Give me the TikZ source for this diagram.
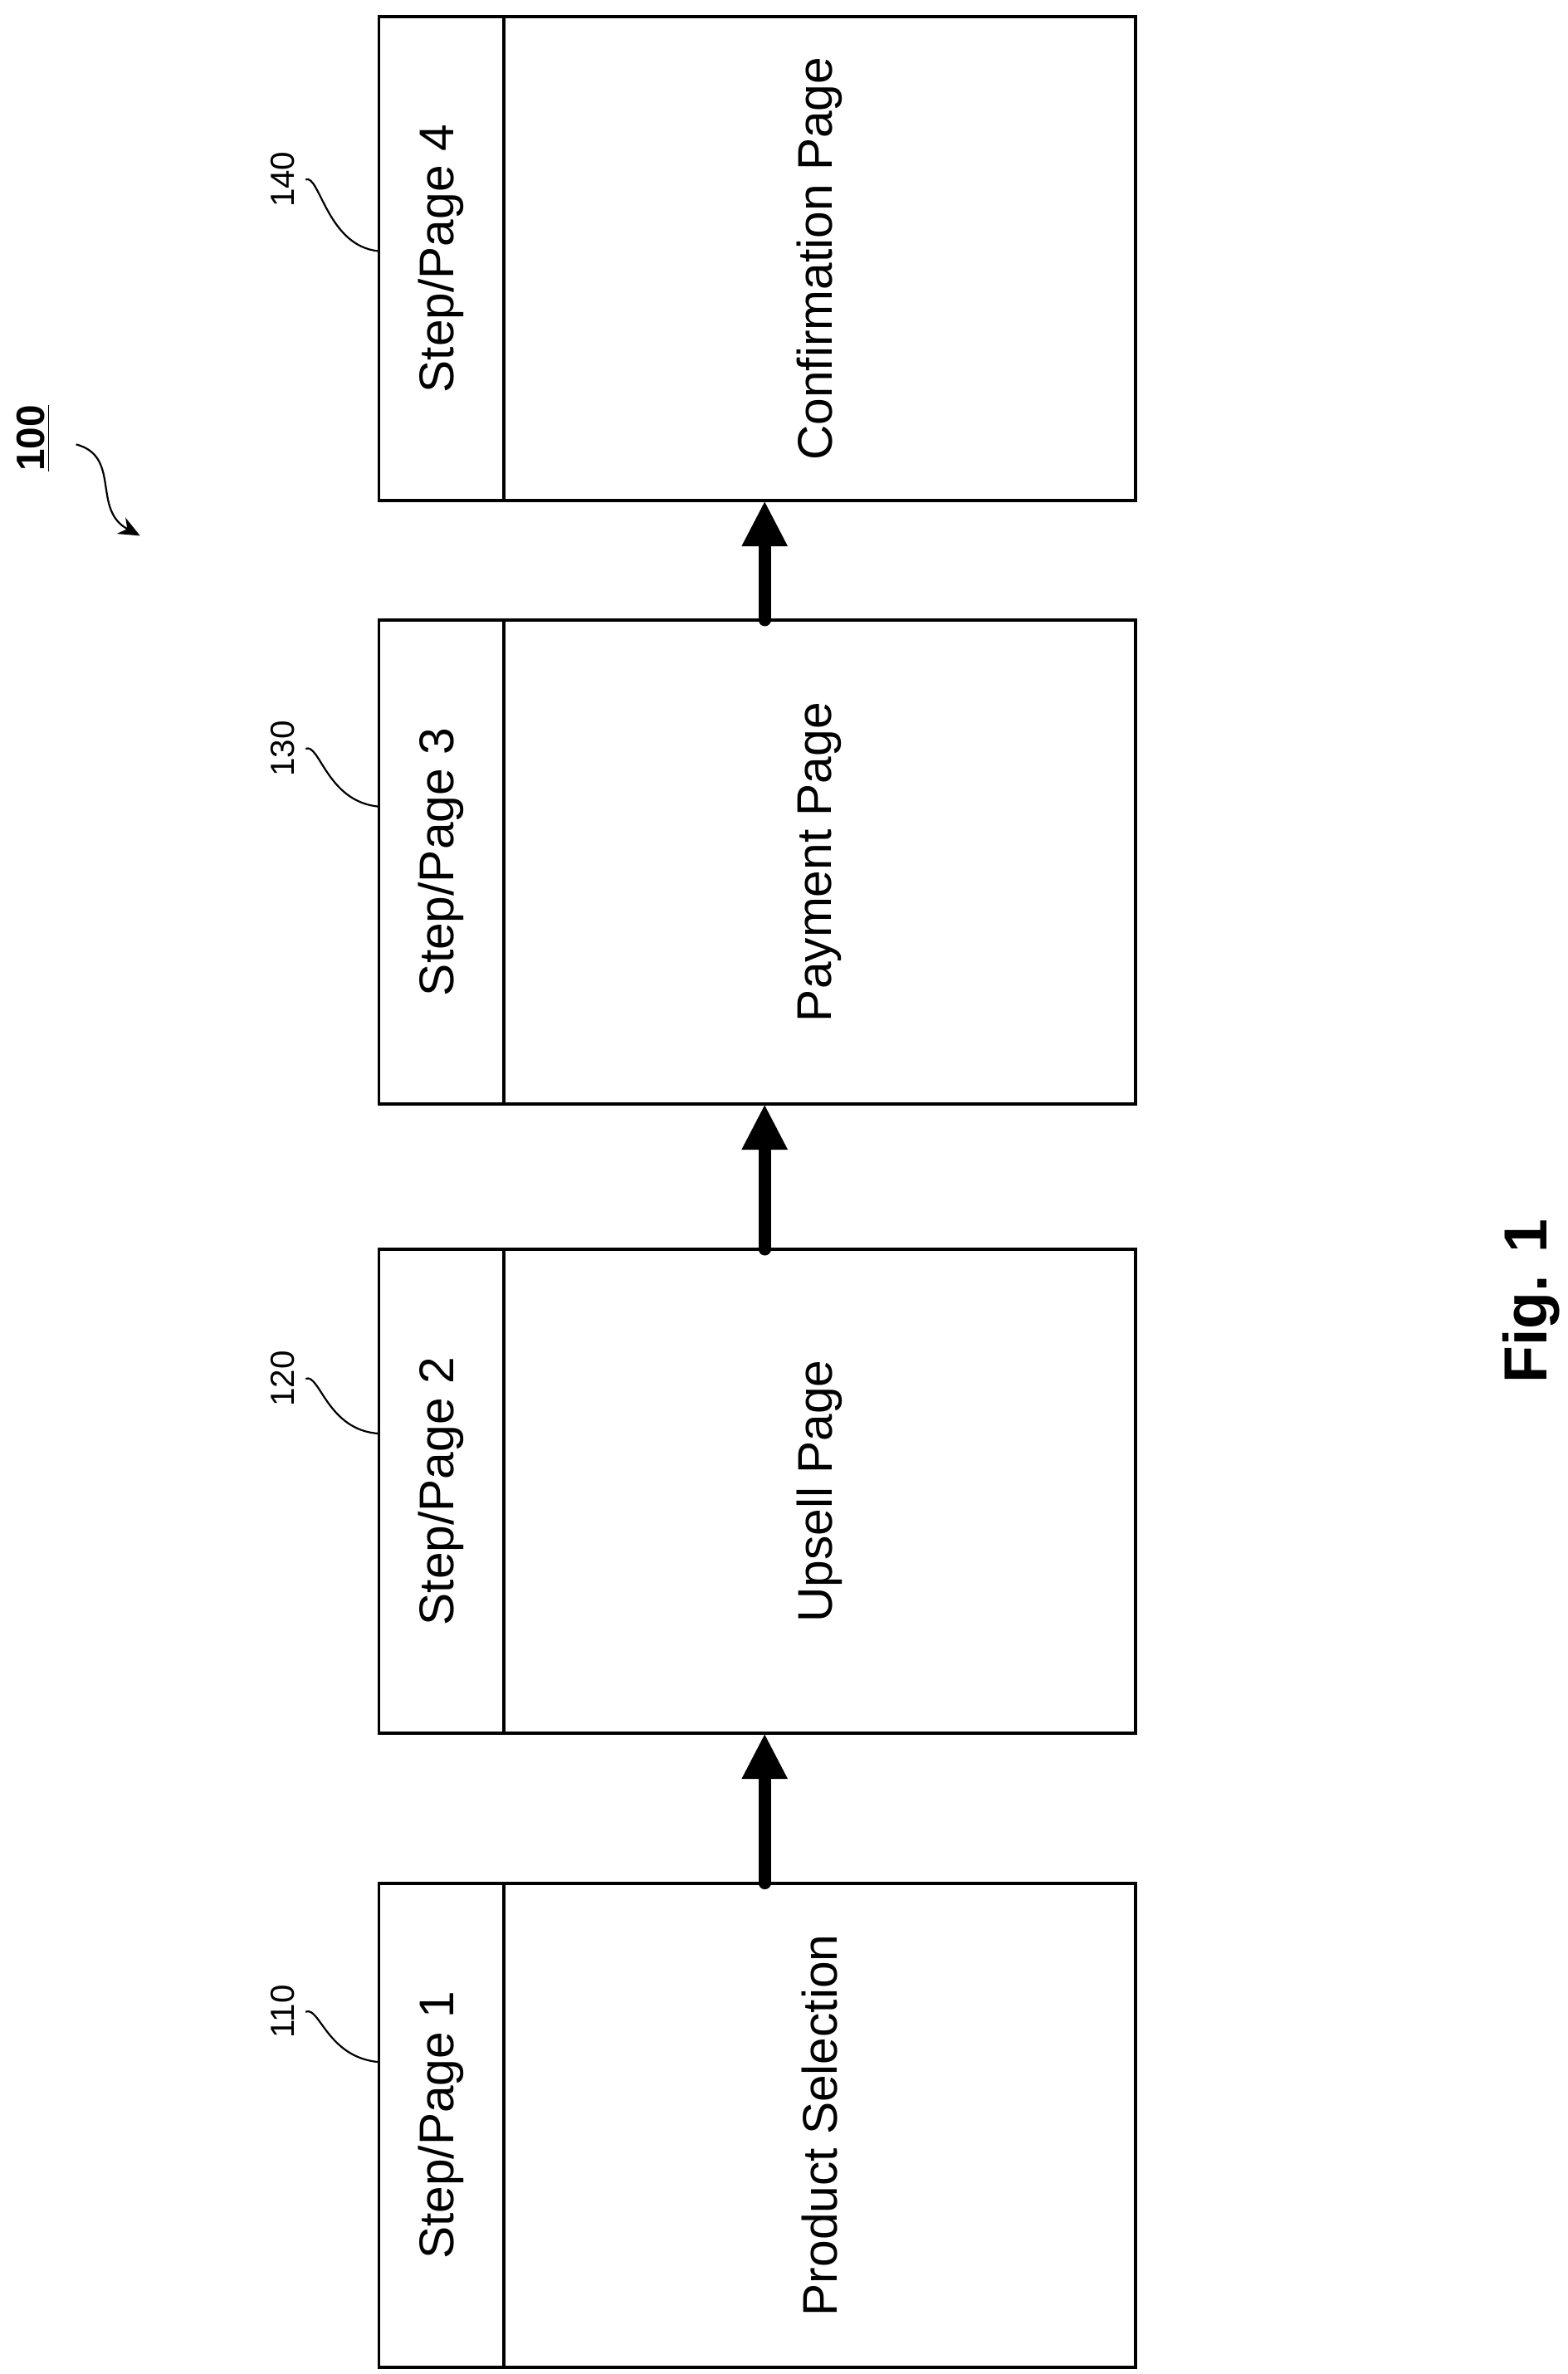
\documentclass[tikz,border=0pt]{standalone}
\usepackage{fontspec}
\setmainfont{Liberation Sans}
\usetikzlibrary{positioning,arrows.meta,calc}

\begin{document}
\begin{tikzpicture}[x=0.5pt,y=-0.5pt,
    stepbox/.style = {draw, line width=1pt, outer sep=0pt, inner sep=0pt,
                      minimum width=41pt, minimum height=159pt, font=\fontsize{16}{18}\selectfont},
    pagebox/.style = {draw, line width=1pt, outer sep=0pt, inner sep=0pt,
                      minimum width=207.5pt, minimum height=159pt, font=\fontsize{16}{18}\selectfont},
    flow/.style = {line width=4pt, line cap=round, -{Triangle[width=14pt,length=15pt]}},
    ref/.style = {font=\fontsize{11}{13}\selectfont, rotate=90},
    lead/.style = {line width=0.6pt}]
    \useasboundingbox (0,0) rectangle (1030,1560);

    \node[stepbox] (s1) at (290,1396.5) {\rotatebox{90}{Step/Page 1}};
    \node[pagebox, right=0pt of s1] (p1) {\rotatebox{90}{Product Selection}};
    \node[stepbox] (s2) at (290,980) {\rotatebox{90}{Step/Page 2}};
    \node[pagebox, right=0pt of s2] (p2) {\rotatebox{90}{Upsell Page}};
    \node[stepbox] (s3) at (290,566.5) {\rotatebox{90}{Step/Page 3}};
    \node[pagebox, right=0pt of s3] (p3) {\rotatebox{90}{Payment Page}};
    \node[stepbox] (s4) at (290,170) {\rotatebox{90}{Step/Page 4}};
    \node[pagebox, right=0pt of s4] (p4) {\rotatebox{90}{Confirmation Page}};

    \draw[flow] ($(s1.north west)!0.51!(p1.north east)$) -- ($(s2.south west)!0.51!(p2.south east)$);
    \draw[flow] ($(s2.north west)!0.51!(p2.north east)$) -- ($(s3.south west)!0.51!(p3.south east)$);
    \draw[flow] ($(s3.north west)!0.51!(p3.north east)$) -- ($(s4.south west)!0.51!(p4.south east)$);

    % reference numerals
    \node[ref] (r1) at (186,1322) {110};
    \node[ref] (r2) at (186,906) {120};
    \node[ref] (r3) at (186,492) {130};
    \node[ref] (r4) at (186,118) {140};
    \draw[lead] (r1.south) .. controls (210,1318) and (215,1352) .. (s1.west |- 0,1355);
    \draw[lead] (r2.south) .. controls (210,902) and (215,940) .. (s2.west |- 0,942);
    \draw[lead] (r3.south) .. controls (210,488) and (215,527) .. (s3.west |- 0,530);
    \draw[lead] (r4.south) .. controls (210,114) and (215,162) .. (s4.west |- 0,165);

    \node[rotate=90, font=\bfseries\fontsize{13}{15}\selectfont] (fig) at (22,288) {\underline{100}};
    \coordinate (tip) at (92,352);
    \draw[lead, -{Stealth[width=6pt,length=7pt]}] (50,292) .. controls (80,300) and (60,335) .. (tip);

    \node[rotate=90, font=\bfseries\fontsize{20}{22}\selectfont] (cap) at (1006,855) {Fig. 1};
\end{tikzpicture}
\end{document}
